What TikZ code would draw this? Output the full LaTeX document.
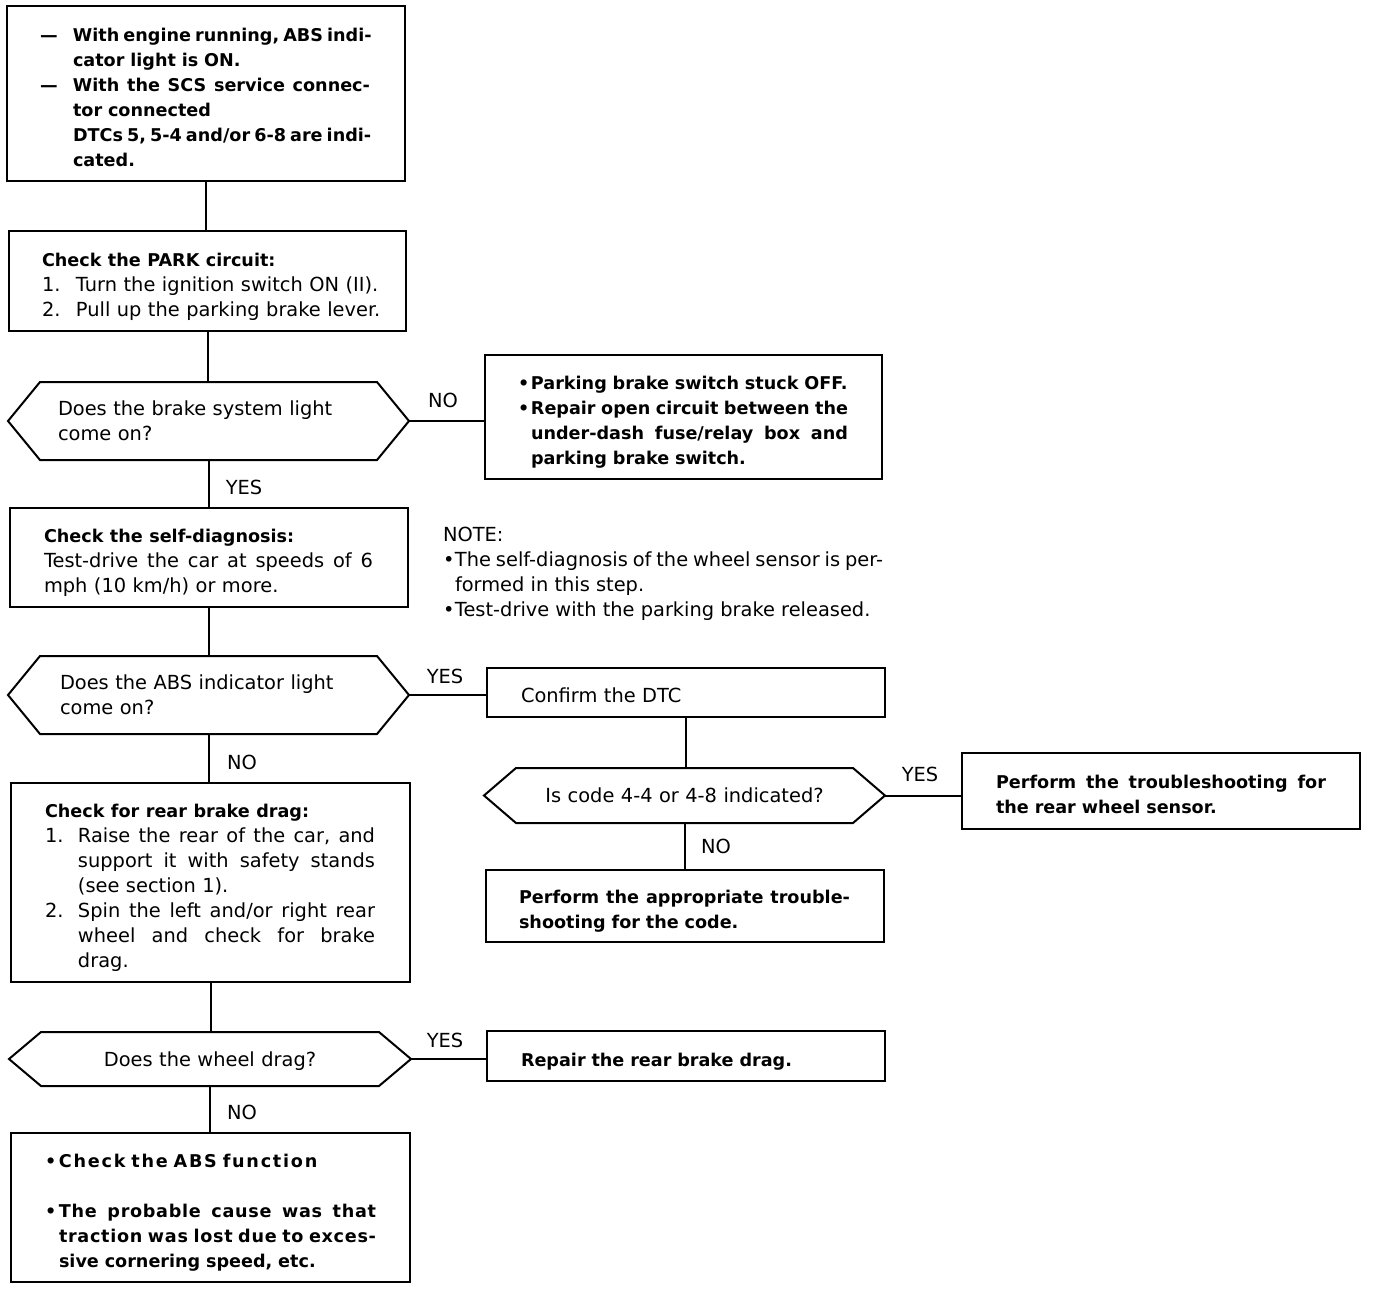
\documentclass[tikz,border=0pt]{standalone}
\usepackage{fontspec}
\setmainfont{DejaVu Sans}
\newfontfamily\lsA[LetterSpace=10]{DejaVu Sans}
\newfontfamily\lsB[LetterSpace=4]{DejaVu Sans}
\newcommand\rf{\fontsize{9.7pt}{12.5pt}\selectfont}
\newcommand\bft{\fontsize{8.8pt}{12.5pt}\selectfont\bfseries}
\newcommand\jl[2]{\leavevmode\hbox to #1{\frenchspacing\spaceskip=\fontdimen2\font plus 1fil minus \fontdimen4\font\relax #2}}
\newcommand\hng[2]{\makebox[#1][l]{#2}}
\newcommand\tsb{\rule{0pt}{12.5pt}}
\newcommand\bsb{\rule[-2.5pt]{0pt}{2.5pt}}
\newcommand\tsh{\rule{0pt}{10pt}}
\newcommand\bsh{\rule[-3pt]{0pt}{3pt}}
\newcommand\hexpath[1]{\draw (#1.west) -- ([xshift=16pt]#1.north west) -- ([xshift=-16pt]#1.north east) -- (#1.east) -- ([xshift=-16pt]#1.south east) -- ([xshift=16pt]#1.south west) -- cycle;}
\begin{document}
\begin{tikzpicture}[x=0.5pt,y=-0.5pt,line width=1pt,
  box/.style={draw, rectangle, align=left, inner ysep=0pt, font=\rf},
  hexa/.style={rectangle, inner ysep=0pt, font=\rf},
  lbl/.style={font=\rf, inner sep=0pt}]
\path[use as bounding box, fill=white] (0,0) rectangle (1376,1292);

% box 1
\node[box, font=\bft, text width=166pt, inner xsep=16.5pt, minimum height=87.5pt] (b1) at (206,93.5)
{\tsb\hng{16.5pt}{—}\jl{148.5pt}{With engine running, ABS indi-}\\
 \hspace*{16.5pt}cator light is ON.\\
 \hng{16.5pt}{—}\jl{148.5pt}{With the SCS service connec-}\\
 \hspace*{16.5pt}tor connected\\
 \hspace*{16.5pt}\jl{148.5pt}{DTCs 5, 5-4 and/or 6-8 are indi-}\\
 \hspace*{16.5pt}cated.\bsb};

% box 2
\node[box, text width=165.5pt, inner xsep=16.5pt, minimum height=50pt] (b2) at (207.5,281)
{\tsb{\bft Check the PARK circuit:}\\
 \mbox{\hng{17pt}{1.}Turn the ignition switch ON (II).}\\
 \mbox{\hng{17pt}{2.}Pull up the parking brake lever.}\bsb};

% hexagon 1
\node[hexa, align=left, text width=150.5pt, inner xsep=24.5pt, minimum height=38pt] (h1) at (208.5,421)
{\tsh Does the brake system light\\come on?\bsh};
\hexpath{h1}

% box 3
\node[box, font=\bft, text width=165.5pt, inner xsep=16.5pt, minimum height=62pt] (b3) at (683.5,417)
{\tsb\hng{6.5pt}{•}Parking brake switch stuck OFF.\\
 \hng{6.5pt}{•}\jl{158.5pt}{Repair open circuit between the}\\
 \hspace*{6.5pt}\jl{158.5pt}{under-dash fuse/relay box and}\\
 \hspace*{6.5pt}parking brake switch.\bsb};

% box 4
\node[box, text width=165pt, inner xsep=17pt, minimum height=49.5pt] (b4) at (209,557.5)
{\tsb{\bft Check the self-diagnosis:}\\
 \jl{164.5pt}{Test-drive the car at speeds of 6}\\
 mph (10 km/h) or more.\bsb};

% note
\node[anchor=north west, inner sep=0pt, align=left, font=\rf] (note) at (442,526)
{NOTE:\\
 \hng{6pt}{•}\jl{214pt}{The self-diagnosis of the wheel sensor is per-}\\
 \hspace*{6pt}formed in this step.\\
 \hng{6pt}{•}Test-drive with the parking brake released.};

% hexagon 2
\node[hexa, align=left, text width=148.5pt, inner xsep=25.5pt, minimum height=38pt] (h2) at (208.5,695)
{\tsh Does the ABS indicator light\\come on?\bsh};
\hexpath{h2}

% box 5
\node[box, text width=165pt, inner xsep=17pt, minimum height=24.5pt] (b5) at (686,692.5)
{\tsb Confirm the DTC\bsb};

% hexagon 3
\node[hexa, align=center, text width=150pt, inner xsep=24.75pt, minimum height=26.5pt] (h3) at (684.5,795.5)
{\tsh Is code 4-4 or 4-8 indicated?\bsh};
\hexpath{h3}

% box 6
\node[box, font=\bft, text width=165pt, inner xsep=17pt, minimum height=38pt] (b6) at (1161,791)
{\tsb\jl{165pt}{Perform the troubleshooting for}\\
 the rear wheel sensor.\bsb};

% box 7
\node[box, font=\bft, text width=166pt, inner xsep=16.5pt, minimum height=36pt] (b7) at (685,906)
{\tsb\jl{165.5pt}{Perform the appropriate trouble-}\\
 shooting for the code.\bsb};

% box 8
\node[box, text width=165.5pt, inner xsep=17pt, minimum height=99.5pt] (b8) at (210.5,882.5)
{\tsb{\bft Check for rear brake drag:}\\
 \hng{16.5pt}{1.}\jl{148.5pt}{Raise the rear of the car, and}\\
 \hspace*{16.5pt}\jl{148.5pt}{support it with safety stands}\\
 \hspace*{16.5pt}(see section 1).\\
 \hng{16.5pt}{2.}\jl{148.5pt}{Spin the left and/or right rear}\\
 \hspace*{16.5pt}\jl{148.5pt}{wheel and check for brake}\\
 \hspace*{16.5pt}drag.\bsb};

% hexagon 4
\node[hexa, align=center, text width=150pt, inner xsep=25pt, minimum height=26pt] (h4) at (210,1059)
{\tsh Does the wheel drag?\bsh};
\hexpath{h4}

% box 9
\node[box, font=\bft, text width=165pt, inner xsep=17pt, minimum height=25pt] (b9) at (686,1056)
{\tsb Repair the rear brake drag.\bsb};

% box 10
\node[box, font=\bft, text width=165.5pt, inner xsep=17pt, minimum height=74.5pt] (b10) at (210.5,1207.5)
{\tsb\hng{7pt}{•}{\lsA\bfseries Check the ABS function}\\[12.5pt]
 \hng{7pt}{•}{\lsB\bfseries\jl{158.5pt}{The probable cause was that}}\\
 \hspace*{7pt}{\lsB\bfseries\jl{158.5pt}{traction was lost due to exces-}}\\
 \hspace*{7pt}sive cornering speed, etc.\bsb};

% connectors
\draw (b1.south) -- (b1.south |- b2.north);
\draw (b2.south) -- (b2.south |- h1.north);
\draw (h1.east) -- (h1.east -| b3.west);
\draw (h1.south) -- (h1.south |- b4.north);
\draw (b4.south) -- (b4.south |- h2.north);
\draw (h2.east) -- (h2.east -| b5.west);
\draw (b5.south) -- (b5.south |- h3.north);
\draw (h3.east) -- (h3.east -| b6.west);
\draw (h3.south) -- (h3.south |- b7.north);
\draw (h2.south) -- (h2.south |- b8.north);
\draw (b8.south) -- (b8.south |- h4.north);
\draw (h4.east) -- (h4.east -| b9.west);
\draw (h4.south) -- (h4.south |- b10.north);

% labels
\node[lbl] (l1) at (443,400) {NO};
\node[lbl] (l2) at (244,487) {YES};
\node[lbl] (l3) at (445,676) {YES};
\node[lbl] (l4) at (920,774) {YES};
\node[lbl] (l5) at (716,846) {NO};
\node[lbl] (l6) at (242,762) {NO};
\node[lbl] (l7) at (445,1040) {YES};
\node[lbl] (l8) at (242,1112) {NO};
\end{tikzpicture}
\end{document}
